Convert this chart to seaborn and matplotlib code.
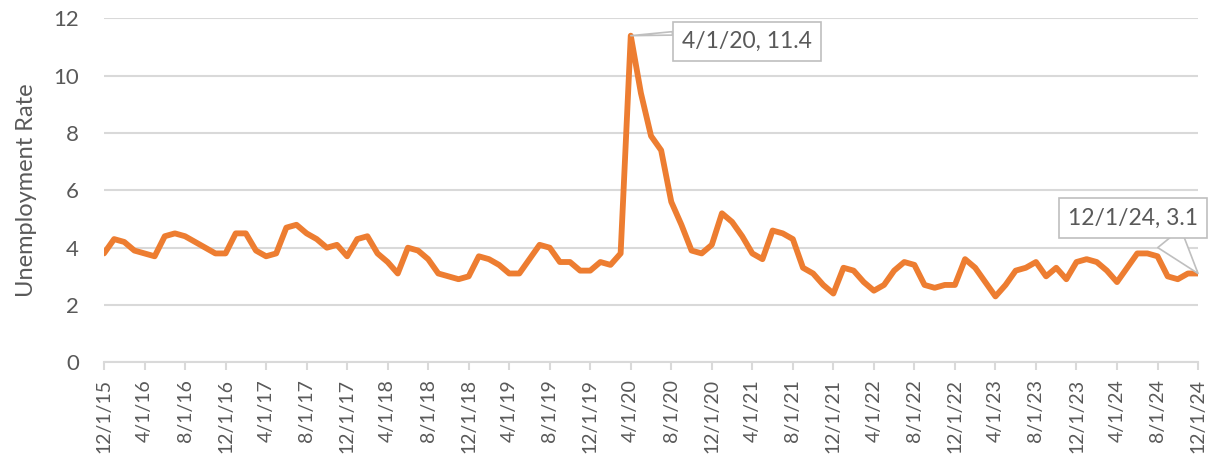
import matplotlib
matplotlib.use("Agg")
import matplotlib.pyplot as plt
import seaborn as sns
import pandas as pd

# ---- data ----
dates = pd.date_range("2015-12-01", "2024-12-01", freq="MS")
rate = [3.8, 4.3, 4.2, 3.9, 3.8, 3.7, 4.4, 4.5, 4.4, 4.2,
        4.0, 3.8, 3.8, 4.5, 4.5, 3.9, 3.7, 3.8, 4.7, 4.8,
        4.5, 4.3, 4.0, 4.1, 3.7, 4.3, 4.4, 3.8, 3.5, 3.1,
        4.0, 3.9, 3.6, 3.1, 3.0, 2.9, 3.0, 3.7, 3.6, 3.4,
        3.1, 3.1, 3.6, 4.1, 4.0, 3.5, 3.5, 3.2, 3.2, 3.5,
        3.4, 3.8, 11.4, 9.4, 7.9, 7.4, 5.6, 4.8, 3.9, 3.8,
        4.1, 5.2, 4.9, 4.4, 3.8, 3.6, 4.6, 4.5, 4.3, 3.3,
        3.1, 2.7, 2.4, 3.3, 3.2, 2.8, 2.5, 2.7, 3.2, 3.5,
        3.4, 2.7, 2.6, 2.7, 2.7, 3.6, 3.3, 2.8, 2.3, 2.7,
        3.2, 3.3, 3.5, 3.0, 3.3, 2.9, 3.5, 3.6, 3.5, 3.2,
        2.8, 3.3, 3.8, 3.8, 3.7, 3.0, 2.9, 3.1, 3.1]
tick_labels = ["12/1/15", "4/1/16", "8/1/16", "12/1/16", "4/1/17", "8/1/17",
               "12/1/17", "4/1/18", "8/1/18", "12/1/18", "4/1/19", "8/1/19",
               "12/1/19", "4/1/20", "8/1/20", "12/1/20", "4/1/21", "8/1/21",
               "12/1/21", "4/1/22", "8/1/22", "12/1/22", "4/1/23", "8/1/23",
               "12/1/23", "4/1/24", "8/1/24", "12/1/24"]
y_ticks = [0, 2, 4, 6, 8, 10, 12]
annotated = ["2020-04-01", "2024-12-01"]

df = pd.DataFrame({"month": range(len(dates)), "date": dates, "rate": rate})

sns.set_style("white")
plt.rcParams["font.family"] = ["Lato", "DejaVu Sans"]

fig = plt.figure(figsize=(12.22, 4.67), dpi=100)
ax = fig.add_axes([0.0851, 0.2242, 0.8953, 0.7362])

sns.lineplot(data=df, x="month", y="rate", ax=ax, color="#ED7D31",
             linewidth=4.2, solid_joinstyle="round", solid_capstyle="round")

ax.set_xlim(0, len(dates) - 1)
ax.set_ylim(min(y_ticks), max(y_ticks))
ax.set_yticks(y_ticks)
ax.set_xticks(range(0, len(dates), 4))
ax.set_xticklabels(tick_labels, rotation=90)

grey_txt = "#595959"
ax.yaxis.grid(True, color="#d9d9d9", linewidth=1.5)
ax.xaxis.grid(False)
ax.set_axisbelow(True)
for s in ["top", "right", "left"]:
    ax.spines[s].set_visible(False)
ax.spines["bottom"].set_color("#d9d9d9")
ax.spines["bottom"].set_linewidth(1.5)
ax.tick_params(axis="x", direction="out", length=6, width=1.5, color="#d9d9d9",
               labelsize=14, labelcolor=grey_txt, pad=6, bottom=True)
ax.tick_params(axis="y", length=0, labelsize=16, labelcolor=grey_txt, pad=18)
ax.set_xlabel("")
ax.set_ylabel("Unemployment Rate", fontsize=17, color=grey_txt, labelpad=12)

# callouts
styles = [
    dict(off=(37, -4), ha="left", relpos=(0.0, 0.9),
         arrow="wedge,tail_width=0.15,shrink_factor=0.5"),
    dict(off=(-47, 40), ha="center", relpos=(0.72, 0.0),
         arrow="wedge,tail_width=1.3,shrink_factor=0.5"),
]
for d, st in zip(annotated, styles):
    row = df[df["date"] == pd.Timestamp(d)].iloc[0]
    label = f"{row['date'].month}/1/{row['date'].strftime('%y')}, {row['rate']:g}"
    ax.annotate(label, xy=(row["month"], row["rate"]), xytext=st["off"],
                textcoords="offset points", ha=st["ha"], va="center",
                fontsize=16.5, color=grey_txt,
                bbox=dict(boxstyle="square,pad=0.4", fc="white", ec="#bfbfbf", lw=1.2),
                arrowprops=dict(arrowstyle=st["arrow"], relpos=st["relpos"],
                                fc="white", ec="#bfbfbf", lw=1.2,
                                shrinkA=0, shrinkB=0),
                annotation_clip=False, zorder=5)

fig.savefig("out.png", dpi=100)
